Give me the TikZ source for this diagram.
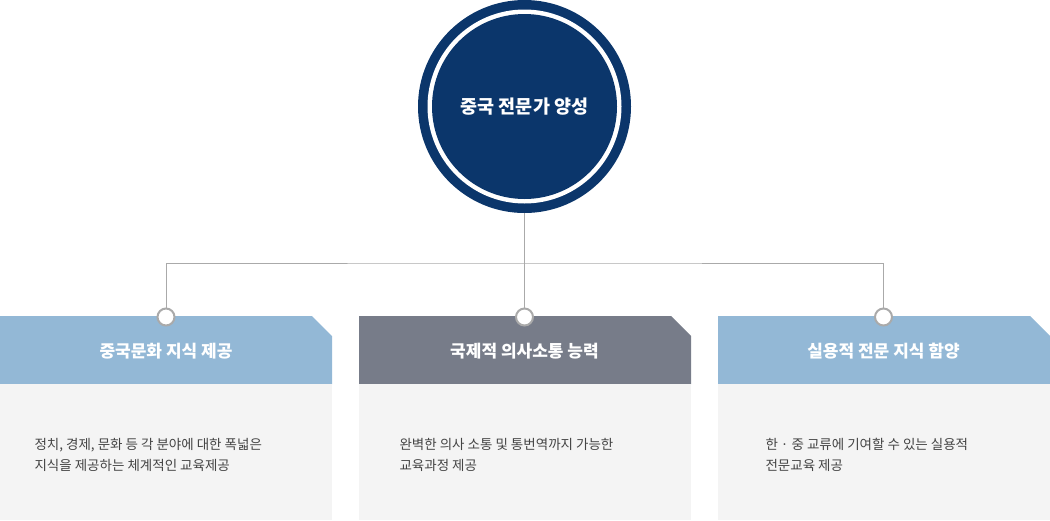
\documentclass[tikz,border=0pt]{standalone}
\usepackage{fontspec}
\setmainfont{Noto Sans CJK KR}
\definecolor{navy}{HTML}{0B366B}
\definecolor{blueh}{HTML}{93B8D6}
\definecolor{grayh}{HTML}{777C89}
\definecolor{bodyg}{HTML}{F4F4F4}
\definecolor{linec}{HTML}{AAAAAA}
\definecolor{txt}{HTML}{444444}
\tikzset{
  hdr/.style={text=white,font=\fontsize{17}{20}\selectfont\bfseries},
  bodytxt/.style={text=txt,font=\fontsize{13.5}{21}\selectfont,align=left,anchor=west},
  dot/.style={circle,draw=linec,line width=2pt,fill=white,minimum size=17pt,inner sep=0pt},
}
\begin{document}
\begin{tikzpicture}[x=1pt,y=-1pt]
\useasboundingbox (0,0) rectangle (1050,520);
% boxes
\foreach \x/\c in {0/blueh,359/grayh,718/blueh}{
  \fill[\c] (\x,316) -- (\x+312,316) -- (\x+332,336) -- (\x+332,384) -- (\x,384) -- cycle;
  \fill[bodyg] (\x,384) rectangle (\x+332,520);
}
% circle
\fill[navy] (524.5,106.5) circle (106.5);
\fill[white] (524.5,106.5) circle (97);
\fill[navy] (524.5,106.5) circle (92.5);
\node[text=white,font=\fontsize{18.5}{22}\selectfont\bfseries] (top) at (524.5,106.5) {중국 전문가 양성};
\coordinate (cb) at (524.5,213);
\coordinate (j) at (524.5,263);
% connectors
\node[dot] (d1) at (166,317) {};
\node[dot] (d2) at (524.5,317) {};
\node[dot] (d3) at (883.5,317) {};
\draw[linec,line width=1pt] (cb) -- (d2.north);
\draw[linec,line width=1pt] (d1.north) |- (j) -| (d3.north);
% headers
\node[hdr] (h1) at (166,351) {중국문화 지식 제공};
\node[hdr] (h2) at (524.5,351) {국제적 의사소통 능력};
\node[hdr] (h3) at (883.5,351) {실용적 전문 지식 함양};
\node[bodytxt] (b1) at (31,455) {정치, 경제, 문화 등 각 분야에 대한 폭넓은\\지식을 제공하는 체계적인 교육제공};
\node[bodytxt] (b2) at (396,455) {완벽한 의사 소통 및 통번역까지 가능한\\교육과정 제공};
\node[bodytxt] (b3) at (762,455) {한 · 중 교류에 기여할 수 있는 실용적\\전문교육 제공};
\end{tikzpicture}
\end{document}
